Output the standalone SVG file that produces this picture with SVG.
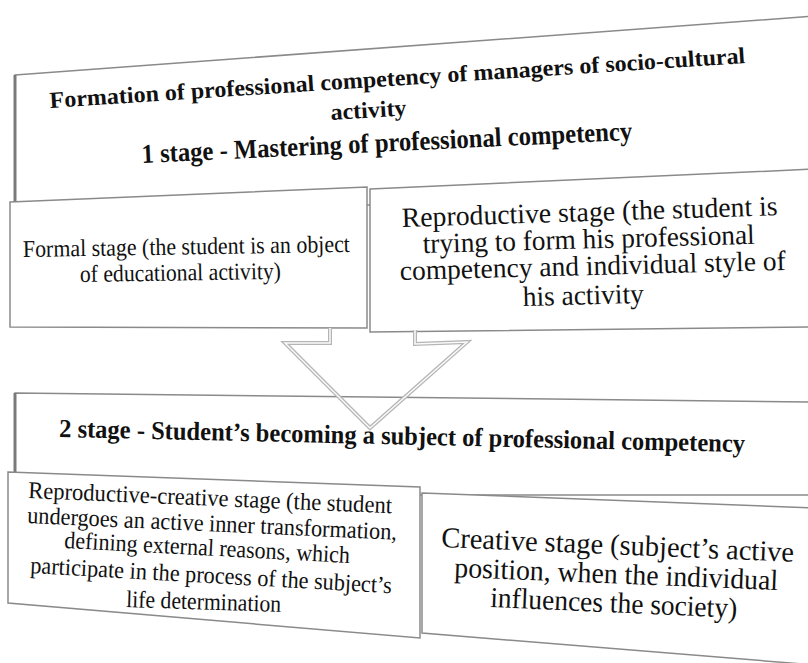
<svg xmlns="http://www.w3.org/2000/svg" width="808" height="663" viewBox="0 0 808 663">
<style>
.box{fill:#fff;stroke:#8a8a8a;stroke-width:1.5}
.edge{fill:none;stroke:#7a7a7a;stroke-width:3}
text{font-family:"Liberation Serif","Times New Roman",Tinos,serif;fill:#111}
.b{font-weight:bold}
.f23{font-size:23px}
.f24{font-size:24px}
.f26{font-size:26px}
.f27{font-size:27px}
.f28{font-size:28px}
.f29{font-size:29px}
.arrowOuter{fill:none;stroke:#b5b5b5;stroke-width:4;stroke-linejoin:miter}
.arrowInner{fill:none;stroke:#fafafa;stroke-width:1.5;stroke-linejoin:miter}
</style>
<rect width="808" height="663" fill="#fff"/>
<g id="stage1">
<polygon class="box" points="15,75 815,16 815,205 15,205"/>
<line class="edge" x1="15" y1="75" x2="15" y2="202"/>
<text class="b f23" x="50" y="108" textLength="697" lengthAdjust="spacingAndGlyphs" transform="rotate(-3.7 50 108)">Formation of professional competency of managers of socio-cultural</text>
<text class="b f23" x="331" y="120" textLength="76" lengthAdjust="spacingAndGlyphs" transform="rotate(-3.5 331 120)">activity</text>
<text class="b f27" x="142" y="163" textLength="491" lengthAdjust="spacingAndGlyphs" transform="rotate(-2.7 142 163)">1 stage - Mastering of professional competency</text>
</g>
<g id="formal">
<polygon class="box" points="10,202 367,187 367,328 10,327"/>
<text class="f24" x="23" y="257" textLength="327" lengthAdjust="spacingAndGlyphs" transform="rotate(-0.9 23 257)">Formal stage (the student is an object</text>
<text class="f24" x="80" y="282" textLength="201" lengthAdjust="spacingAndGlyphs" transform="rotate(-0.9 80 282)">of educational activity)</text>
</g>
<g id="reproductive">
<polygon class="box" points="370,189 815,169 815,327 370,332"/>
<text class="f28" x="402" y="227" textLength="376" lengthAdjust="spacingAndGlyphs" transform="rotate(-1.8 402 227)">Reproductive  stage (the student is</text>
<text class="f28" x="423" y="253" textLength="332" lengthAdjust="spacingAndGlyphs" transform="rotate(-1.6 423 253)">trying to form his professional</text>
<text class="f28" x="400" y="280" textLength="386" lengthAdjust="spacingAndGlyphs" transform="rotate(-1.5 400 280)">competency and individual style of</text>
<text class="f28" x="523" y="306" textLength="121" lengthAdjust="spacingAndGlyphs" transform="rotate(-1.5 523 306)">his activity</text>
</g>
<g id="stage2">
<polygon class="box" points="15,393 815,402 815,495 15,495"/>
<line class="edge" x1="15" y1="393" x2="15" y2="472"/>
<text class="b f26" x="59" y="437" textLength="686" lengthAdjust="spacingAndGlyphs" transform="rotate(1.25 59 437)">2 stage - Student’s becoming a subject of professional competency</text>
</g>
<g id="connectors">
<path class="arrowOuter" d="M330,328 L330,343 L285,343 L370,428 L467,342 L415,344 L415,330"/>
<path class="arrowInner" d="M330,328 L330,343 L285,343 L370,428 L467,342 L415,344 L415,330"/>
</g>
<g id="reprocreative">
<polygon class="box" points="8,472 420,487 420,638 8,603"/>
<text class="f24" x="28" y="498" textLength="364" lengthAdjust="spacingAndGlyphs" transform="rotate(2.4 28 498)">Reproductive-creative  stage (the student</text>
<text class="f24" x="27" y="523" textLength="370" lengthAdjust="spacingAndGlyphs" transform="rotate(2.6 27 523)">undergoes an active inner transformation,</text>
<text class="f24" x="64" y="548" textLength="286" lengthAdjust="spacingAndGlyphs" transform="rotate(3 64 548)">defining external reasons, which</text>
<text class="f24" x="30" y="573" textLength="362" lengthAdjust="spacingAndGlyphs" transform="rotate(3.2 30 573)">participate in the process of the subject’s</text>
<text class="f24" x="126" y="607" textLength="155" lengthAdjust="spacingAndGlyphs" transform="rotate(1.8 126 607)">life determination</text>
</g>
<g id="creative">
<polygon class="box" points="422,493 815,508 815,665 422,633"/>
<text class="f29" x="441" y="547" textLength="353" lengthAdjust="spacingAndGlyphs" transform="rotate(2.4 441 547)">Creative  stage (subject’s active</text>
<text class="f29" x="454" y="577" textLength="324" lengthAdjust="spacingAndGlyphs" transform="rotate(2.3 454 577)">position, when the individual</text>
<text class="f29" x="490" y="607" textLength="247" lengthAdjust="spacingAndGlyphs" transform="rotate(2.5 490 607)">influences the society)</text>
</g>
</svg>
